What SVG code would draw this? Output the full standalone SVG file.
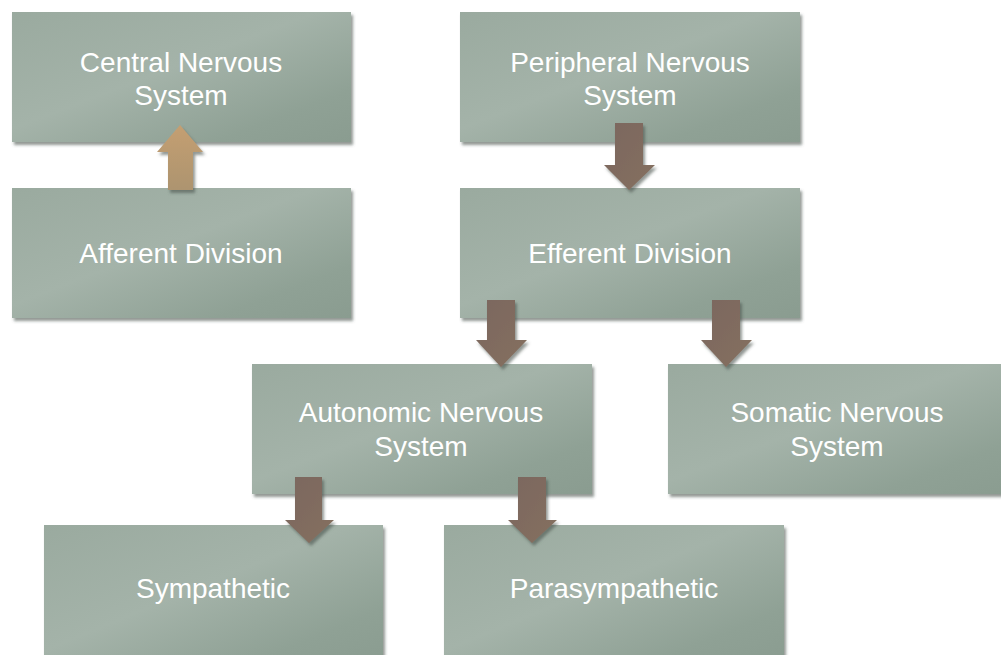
<svg xmlns="http://www.w3.org/2000/svg" width="1001" height="655" viewBox="0 0 1001 655">
  <defs>
    <linearGradient id="boxg" x1="0" y1="0" x2="1" y2="1">
      <stop offset="0" stop-color="#9aaa9f"/>
      <stop offset="0.45" stop-color="#a4b3a9"/>
      <stop offset="0.8" stop-color="#8fa195"/>
      <stop offset="1" stop-color="#8a9c90"/>
    </linearGradient>
    <linearGradient id="arrg" x1="0" y1="0" x2="1" y2="1">
      <stop offset="0" stop-color="#7b675e"/>
      <stop offset="1" stop-color="#85705f"/>
    </linearGradient>
    <linearGradient id="tang" x1="0" y1="0" x2="0" y2="1">
      <stop offset="0" stop-color="#c49f72"/>
      <stop offset="1" stop-color="#ad946f"/>
    </linearGradient>
    <filter id="sh" x="-10%" y="-10%" width="130%" height="130%">
      <feDropShadow dx="2" dy="3" stdDeviation="1.5" flood-color="#4a524d" flood-opacity="0.6"/>
    </filter>
  </defs>
  <style>
    .box { fill: url(#boxg); filter: url(#sh); }
    .lbl { font-family: "Liberation Sans", Arial, Helvetica, sans-serif; font-size: 28px; fill: #ffffff; text-anchor: middle; }
    .arr { fill: url(#arrg); filter: url(#sh); }
    .arr-up { fill: url(#tang); filter: url(#sh); }
  </style>
  <rect width="1001" height="655" fill="#ffffff"/>

  <g id="cns">
    <rect class="box" x="12" y="12" width="339" height="130"/>
    <text class="lbl" x="181" y="72">Central Nervous</text>
    <text class="lbl" x="181" y="105">System</text>
  </g>
  <g id="afferent">
    <rect class="box" x="12" y="188" width="339" height="130"/>
    <text class="lbl" x="181" y="263">Afferent Division</text>
  </g>
  <g id="pns">
    <rect class="box" x="460" y="12" width="340" height="130"/>
    <text class="lbl" x="630" y="72">Peripheral Nervous</text>
    <text class="lbl" x="630" y="105">System</text>
  </g>
  <g id="efferent">
    <rect class="box" x="460" y="188" width="340" height="130"/>
    <text class="lbl" x="630" y="263">Efferent Division</text>
  </g>
  <g id="ans">
    <rect class="box" x="252" y="364" width="340" height="130"/>
    <text class="lbl" x="421" y="422">Autonomic Nervous</text>
    <text class="lbl" x="421" y="456">System</text>
  </g>
  <g id="somatic">
    <rect class="box" x="668" y="364" width="345" height="130"/>
    <text class="lbl" x="837" y="422">Somatic Nervous</text>
    <text class="lbl" x="837" y="456">System</text>
  </g>
  <g id="sympathetic">
    <rect class="box" x="44" y="525" width="339" height="140"/>
    <text class="lbl" x="213" y="598">Sympathetic</text>
  </g>
  <g id="parasympathetic">
    <rect class="box" x="444" y="525" width="340" height="140"/>
    <text class="lbl" x="614" y="598">Parasympathetic</text>
  </g>

  <g id="connectors">
    <path class="arr-up" d="M168 190 L168 152 L157 152 L180 125 L203 152 L193 152 L193 190 Z"/>
    <path class="arr" d="M615 123 L643 123 L643 165 L655 165 L629 190 L604 165 L615 165 Z"/>
    <path class="arr" d="M487 300 L515 300 L515 340 L527 340 L501 367 L476 340 L487 340 Z"/>
    <path class="arr" d="M712 300 L740 300 L740 340 L752 340 L726 367 L701 340 L712 340 Z"/>
    <path class="arr" d="M295 477 L322 477 L322 520 L334 520 L309 543 L285 520 L295 520 Z"/>
    <path class="arr" d="M518 477 L546 477 L546 520 L557 520 L532 543 L508 520 L518 520 Z"/>
  </g>
</svg>
